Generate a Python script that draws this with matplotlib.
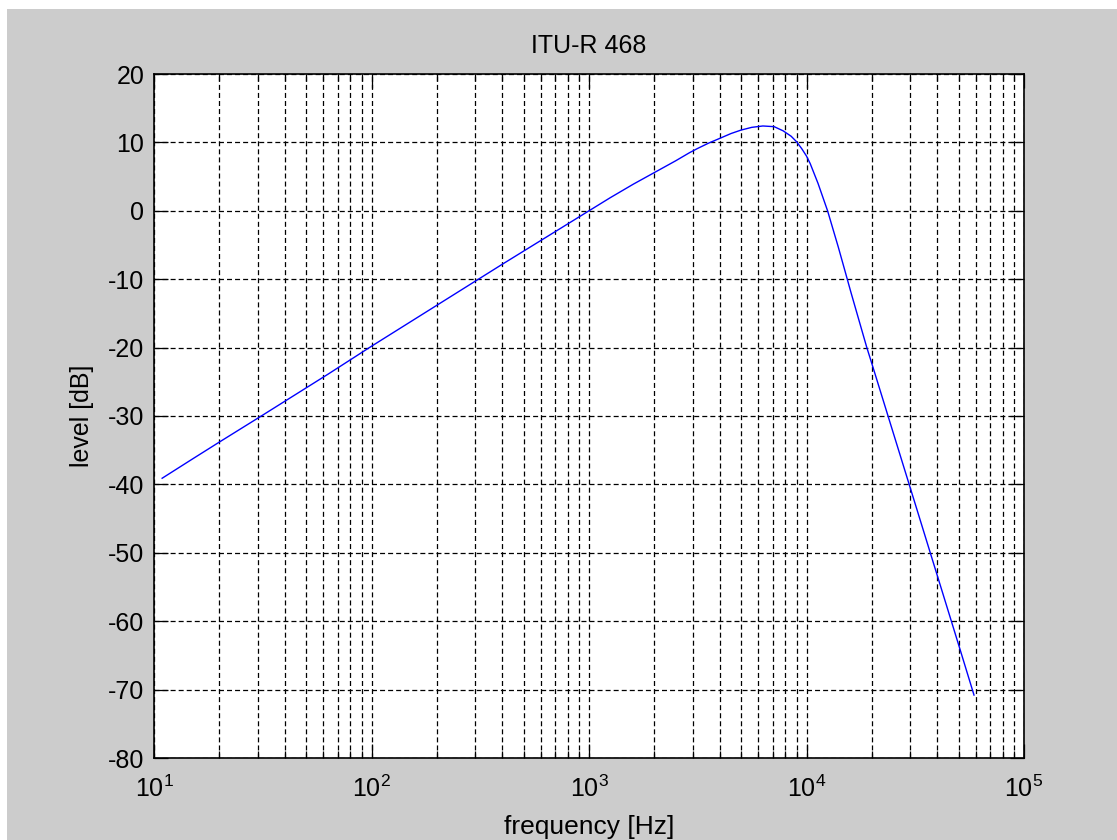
import math

import matplotlib

matplotlib.use("Agg")
import matplotlib.pyplot as plt
from matplotlib.patches import Rectangle
from matplotlib.ticker import LogLocator, FuncFormatter, NullFormatter, MultipleLocator

plt.rcParams["font.family"] = ["Liberation Sans", "DejaVu Sans"]
plt.rcParams["mathtext.fontset"] = "custom"
plt.rcParams["mathtext.rm"] = "Liberation Sans"
plt.rcParams["axes.unicode_minus"] = False
plt.rcParams["lines.scale_dashes"] = False

# ITU-R 468 weighting curve
freq_hz = [10.9, 15, 20, 31.5, 63, 100, 200, 400, 800, 1000, 1250, 1600,
           2000, 2500, 2900, 3150, 3550, 4000, 4500, 5000, 5600, 6300, 7100,
           7800, 8500, 9000, 9500, 10000, 10400, 11300, 12500, 14000, 15000,
           16000, 18900, 20000, 31500, 40000, 50000, 58900]
level_db = [-39.1, -36.3, -33.8, -29.9, -23.9, -19.8, -13.8, -7.8, -1.9, 0.0,
            1.9, 3.9, 5.6, 7.3, 8.5, 9.1, 9.9, 10.6, 11.3, 11.8, 12.2, 12.4,
            12.3, 11.7, 10.9, 10.1, 9.1, 8.0, 6.9, 4.0, 0.0, -5.3, -8.7,
            -11.9, -19.9, -22.4, -42.7, -53.4, -63.4, -70.8]

x_limits = (10, 1e5)
y_limits = (-80, 20)

fig = plt.figure(figsize=(11.17, 8.4), dpi=100, facecolor="#cccccc")
# white strips of the screenshot frame
fig.add_artist(Rectangle((0, 1 - 9 / 840), 1, 9 / 840, transform=fig.transFigure,
                         facecolor="white", edgecolor="none"))
fig.add_artist(Rectangle((0, 0), 7 / 1117, 1, transform=fig.transFigure,
                         facecolor="white", edgecolor="none"))

ax = fig.add_axes([154 / 1117, 1 - 758 / 840, 870 / 1117, 684 / 840])
ax.set_facecolor("white")
ax.plot(freq_hz, level_db, color="#0000ff", lw=1.0, zorder=3)

ax.set_xscale("log")
ax.set_xlim(*x_limits)
ax.set_ylim(*y_limits)
ax.yaxis.set_major_locator(MultipleLocator(10))
ax.xaxis.set_major_locator(LogLocator(base=10, numticks=10))
ax.xaxis.set_minor_locator(LogLocator(base=10, subs=range(2, 10), numticks=20))
ax.xaxis.set_major_formatter(FuncFormatter(
    lambda v, p: r"$\mathregular{10^{%d}}$" % round(math.log10(v))))
ax.xaxis.set_minor_formatter(NullFormatter())

grid_kw = dict(color="black", lw=0.9, linestyle=(0, (3.6, 2.2)))
ax.grid(True, which="major", axis="both", **grid_kw)
ax.grid(True, which="minor", axis="x", **grid_kw)
ax.set_axisbelow(False)

ax.tick_params(which="both", direction="in", top=True, right=True, width=0.9,
               colors="black", labelsize=18)
ax.tick_params(which="major", length=10)
ax.tick_params(which="minor", length=5)
ax.tick_params(axis="x", pad=13)
ax.tick_params(axis="y", pad=7)
for s in ax.spines.values():
    s.set_linewidth(1.2)

ax.set_title("ITU-R 468", fontsize=18, pad=15)
ax.set_xlabel("frequency [Hz]", fontsize=19, labelpad=9)
ax.set_ylabel("level [dB]", fontsize=18, labelpad=10)

fig.savefig("out.png", dpi=100, facecolor=fig.get_facecolor())
